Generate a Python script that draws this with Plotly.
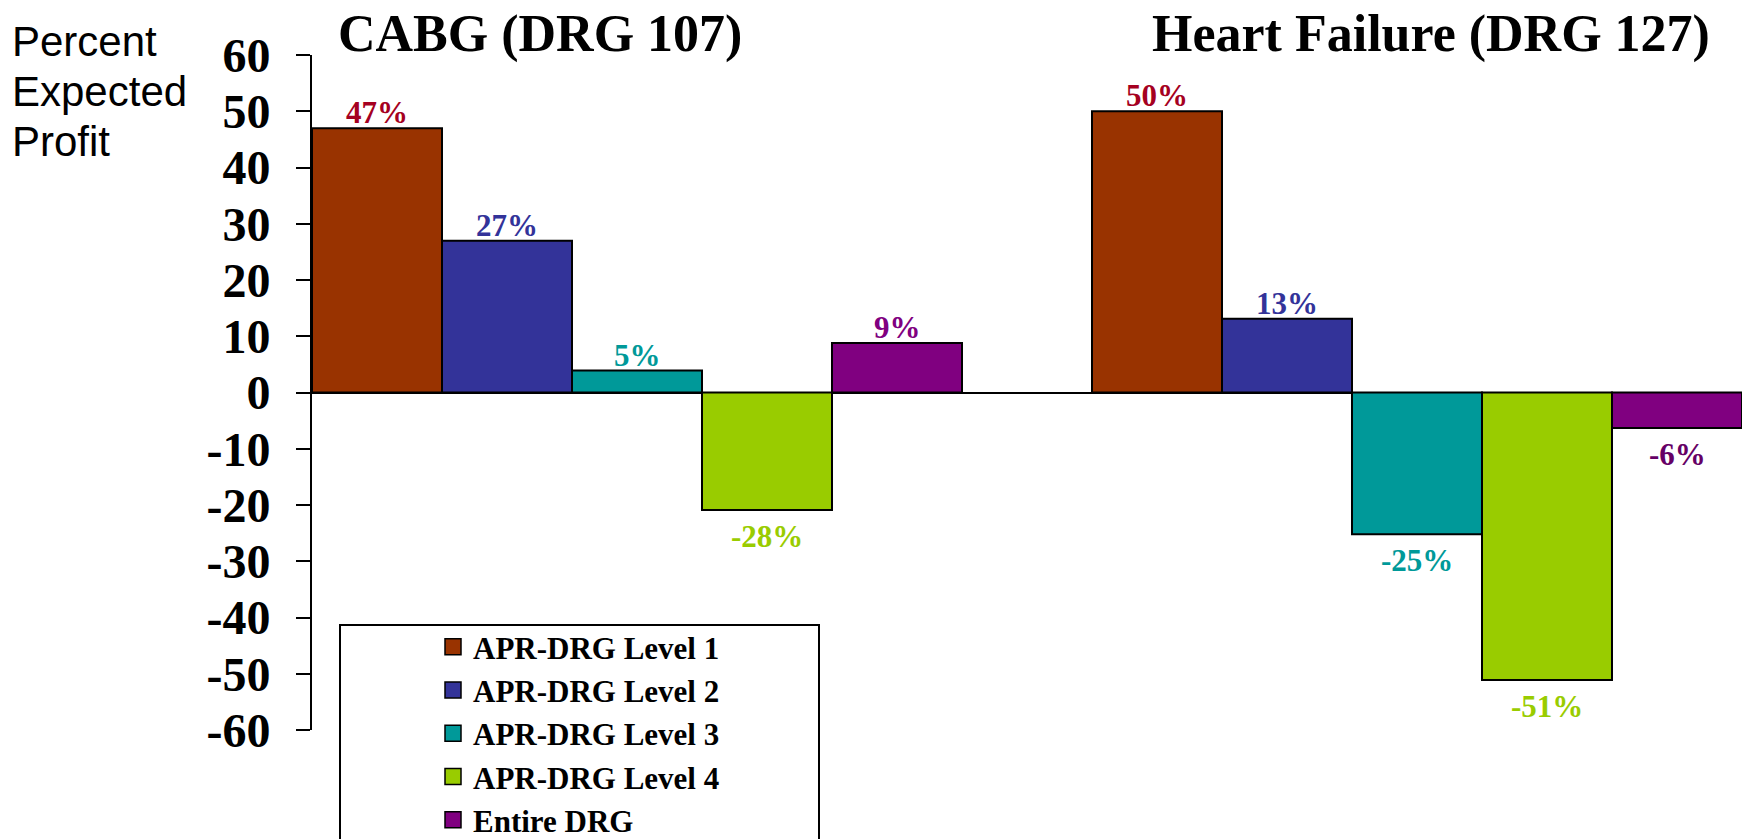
import plotly.graph_objects as go

# ---------------- data ----------------
groups = ["CABG (DRG 107)", "Heart Failure (DRG 127)"]
series_names = ["APR-DRG Level 1", "APR-DRG Level 2", "APR-DRG Level 3",
                "APR-DRG Level 4", "Entire DRG"]
# bar heights as drawn (percent expected profit)
level1 = [47, 50]
level2 = [27, 13.1]
level3 = [3.9, -25.2]
level4 = [-20.9, -51.1]
entire = [8.8, -6.3]
# printed data labels
level1_labels = ["47%", "50%"]
level2_labels = ["27%", "13%"]
level3_labels = ["5%", "-25%"]
level4_labels = ["-28%", "-51%"]
entire_labels = ["9%", "-6%"]
y_ticks = [60, 50, 40, 30, 20, 10, 0, -10, -20, -30, -40, -50, -60]
y_title_lines = ["Percent", "Expected", "Profit"]

# ---------------- styles ----------------
bar_colors = ["#993300", "#333399", "#009999", "#99CC00", "#800080"]
label_colors = [["#A50021", "#A50021"], ["#333399", "#333399"],
                ["#009999", "#009999"], ["#99CC00", "#99CC00"],
                ["#800080", "#660066"]]
SERIF = "Liberation Serif, Times New Roman, serif"
SANS = "Liberation Sans, Arial, sans-serif"
BARGAP = 1 / 6

values = [level1, level2, level3, level4, entire]
labels = [level1_labels, level2_labels, level3_labels, level4_labels, entire_labels]
n_series = len(series_names)

fig = go.Figure()
for name, vals, col in zip(series_names, values, bar_colors):
    fig.add_trace(go.Bar(
        x=groups, y=vals, name=name, showlegend=False,
        marker=dict(color=col, line=dict(color="black", width=2)),
        hoverinfo="x+y+name",
    ))
# legend entries (square swatches)
for name, col in zip(series_names, bar_colors):
    fig.add_trace(go.Scatter(
        x=[None], y=[None], mode="markers", name=name,
        marker=dict(symbol="square", size=16, color=col,
                    line=dict(color="black", width=1.5)),
    ))

# data labels placed at each bar's end, in data coordinates
bar_w = (1 - BARGAP) / n_series
for i, (vals, labs, lcols) in enumerate(zip(values, labels, label_colors)):
    for g, (v, lab, lc) in enumerate(zip(vals, labs, lcols)):
        xpos = g + (i - (n_series - 1) / 2) * bar_w
        pos = v >= 0
        fig.add_annotation(
            x=xpos, y=v, xref="x", yref="y", text=lab, showarrow=False,
            xanchor="center", yanchor="bottom" if pos else "top",
            yshift=-4 if pos else -7,
            font=dict(family=SERIF, size=31, color=lc, weight="bold"),
        )

W, H = 1747, 839
ML, MR, MT, MB = 312, 5, 55, 109
PW, PH = W - ML - MR, H - MT - MB

def px2paper_x(px):
    return (px - ML) / PW

def px2paper_y(py):
    return (H - MB - py) / PH

fig.update_layout(
    width=W, height=H,
    margin=dict(l=ML, r=MR, t=MT, b=MB, pad=0, autoexpand=False),
    paper_bgcolor="white", plot_bgcolor="white",
    barmode="group", bargap=BARGAP, bargroupgap=0,
    showlegend=True,
    legend=dict(
        x=px2paper_x(433), y=px2paper_y(620), xanchor="left", yanchor="top",
        bgcolor="rgba(0,0,0,0)", borderwidth=0,
        font=dict(family=SERIF, size=31, color="black", weight="bold"),
        tracegroupgap=0,
    ),
    xaxis=dict(
        type="category", range=[-5/12, 1 + 5/12],
        showticklabels=False, showgrid=False, zeroline=False,
        showline=False, ticks="", fixedrange=True,
    ),
    yaxis=dict(
        range=[-60, 60], tickvals=y_ticks, ticktext=[str(v) for v in y_ticks],
        showgrid=False, zeroline=True, zerolinecolor="black", zerolinewidth=2,
        showline=True, linecolor="black", linewidth=2,
        ticks="outside", ticklen=14, tickwidth=2, tickcolor="black",
        ticklabelstandoff=16,
        tickfont=dict(family=SERIF, size=48, color="black", weight="bold"),
        fixedrange=True,
    ),
    shapes=[dict(
        type="rect", xref="paper", yref="paper",
        x0=px2paper_x(340), x1=px2paper_x(819),
        y0=px2paper_y(860), y1=px2paper_y(625),
        line=dict(color="black", width=2), fillcolor="white", layer="below",
    )],
)

# group titles
title_centers_px = [540, 1431]
for g, cx in zip(groups, title_centers_px):
    fig.add_annotation(
        text=g, xref="paper", yref="paper",
        x=px2paper_x(cx), y=px2paper_y(34), xanchor="center", yanchor="middle",
        showarrow=False,
        font=dict(family=SERIF, size=52, color="black", weight="bold"),
    )

# y-axis title (three lines, top-left)
for k, line in enumerate(y_title_lines):
    fig.add_annotation(
        text=line, xref="paper", yref="paper",
        x=px2paper_x(10), y=px2paper_y(16 + 50 * k), xanchor="left", yanchor="top",
        align="left", showarrow=False,
        font=dict(family=SANS, size=42, color="black"),
    )

fig.write_html("out.html", config={"displayModeBar": False},
               post_script="document.body.style.margin='0';document.body.style.overflow='hidden';")
